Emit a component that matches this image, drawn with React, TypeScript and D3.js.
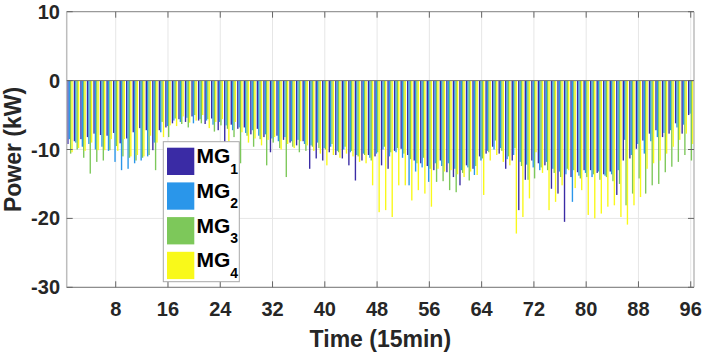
import React from "react";
import * as d3 from "d3";

// MG power per 15-min slot (kW)
const mg1 = [
  -9.2, -8.8, -8.5, -8.2, -7.7, -7.9, -8.0, -7.6, -9.1, -8.4, -7.5, -6.9, -7.2, -10.1, -7.2, -6.8,
  -6.2, -5.6, -6.0, -5.2, -5.8, -6.3, -5.5, -7.2, -8.9, -6.4, -7.0, -6.8, -7.8, -7.0, -8.2, -10.4,
  -8.0, -8.6, -9.0, -9.4, -8.8, -12.8, -11.3, -11.6, -10.4, -10.8, -11.3, -12.3, -14.5, -11.6, -10.8, -11.0,
  -12.3, -12.8, -10.2, -9.9, -10.8, -11.6, -12.0, -12.4, -13.0, -11.6, -13.3, -14.0, -15.2, -12.3, -12.8, -11.0,
  -10.6, -9.6, -10.6, -12.8, -11.6, -18.8, -14.4, -11.6, -12.0, -12.3, -15.7, -16.4, -20.5, -14.0, -13.3, -13.0,
  -13.0, -13.4, -13.6, -13.2, -16.6, -11.6, -11.3, -9.9, -8.7, -7.7, -7.2, -8.2, -7.7, -6.2, -7.7, -5.0,
];
const mg2 = [
  -8.5, -9.0, -9.6, -9.2, -10.0, -9.6, -10.2, -11.8, -13.0, -12.8, -12.0, -11.6, -11.0, -9.0, -7.5, -6.6,
  -5.8, -6.0, -5.4, -6.2, -5.6, -5.8, -6.4, -6.0, -6.5, -7.2, -6.8, -7.6, -7.2, -8.0, -7.8, -8.4,
  -8.8, -8.2, -8.8, -8.6, -9.2, -9.4, -9.0, -9.8, -9.6, -10.2, -10.0, -10.4, -10.8, -10.6, -11.2, -10.6,
  -10.0, -11.0, -10.4, -11.2, -15.2, -13.2, -12.6, -14.7, -12.0, -12.4, -12.0, -12.8, -13.0, -12.6, -13.7, -11.6,
  -10.2, -10.0, -9.8, -11.4, -10.8, -11.8, -12.2, -12.6, -13.0, -11.8, -12.8, -13.2, -13.6, -17.6, -13.8, -13.4,
  -14.0, -13.2, -13.8, -13.6, -13.0, -8.6, -10.8, -9.2, -10.6, -8.8, -8.2, -7.6, -7.2, -6.8, -6.4, -4.8,
];
const mg3 = [
  -10.6, -10.0, -11.2, -13.5, -11.8, -11.6, -10.1, -9.5, -11.0, -11.2, -11.6, -11.2, -10.8, -13.0, -6.0, -8.2,
  -5.5, -6.3, -6.8, -5.0, -6.2, -5.6, -7.4, -6.5, -7.0, -8.2, -12.0, -8.0, -9.6, -8.5, -12.3, -9.0,
  -9.8, -14.0, -9.6, -10.4, -10.2, -9.6, -9.8, -10.0, -9.2, -10.4, -9.6, -10.2, -11.0, -10.8, -11.6, -10.4,
  -9.6, -10.4, -9.8, -10.6, -11.4, -12.0, -11.2, -12.8, -14.7, -14.6, -15.9, -16.2, -13.4, -14.5, -12.4, -11.3,
  -10.4, -8.7, -10.2, -11.0, -9.8, -12.4, -14.4, -14.2, -12.6, -13.0, -13.4, -14.0, -12.8, -13.0, -14.2, -14.0,
  -13.6, -14.4, -14.0, -14.6, -15.0, -18.1, -16.4, -14.2, -16.4, -15.2, -15.0, -13.3, -12.5, -11.8, -10.8, -11.6,
];
const mg4 = [
  -10.4, -9.8, -10.2, -9.0, -10.1, -10.1, -8.5, -10.2, -8.5, -11.0, -10.8, -11.0, -8.0, -9.0, -8.2, -6.5,
  -6.6, -5.2, -6.1, -5.8, -5.0, -6.9, -6.0, -5.6, -8.8, -6.0, -7.5, -9.0, -8.4, -9.4, -8.6, -8.2,
  -10.0, -9.2, -9.8, -8.8, -9.4, -10.2, -10.6, -12.3, -10.8, -11.2, -10.6, -11.0, -11.8, -12.0, -15.2, -19.1,
  -18.8, -19.8, -15.2, -15.2, -17.4, -15.9, -16.4, -18.3, -12.8, -13.2, -13.0, -13.6, -14.0, -13.2, -13.7, -16.6,
  -11.6, -10.8, -11.8, -12.3, -22.2, -19.8, -17.1, -10.4, -13.4, -18.8, -17.6, -15.2, -13.0, -15.6, -15.9, -19.5,
  -20.0, -19.3, -18.3, -18.1, -19.8, -20.9, -18.1, -16.9, -12.8, -12.0, -11.6, -10.6, -9.6, -8.6, -7.7, -9.2,
];

const seriesNames = ["1", "2", "3", "4"];
const seriesColors = ["#3a2ba5", "#2a96ea", "#7dc85a", "#f9f91a"];
const xTicks = [8, 16, 24, 32, 40, 48, 56, 64, 72, 80, 88, 96];
const yTicks = [-30, -20, -10, 0, 10];

const W = 706;
const H = 353;
const font = "'Liberation Sans', Arial, Helvetica, sans-serif";

export default function App() {
  const series = [mg1, mg2, mg3, mg4];
  const steps = mg1.map((_, i) => i + 1);

  const x = d3.scaleLinear().domain([0.5, 96.5]).range([66.7, 694]);
  const y = d3.scaleLinear().domain([-30, 10]).range([287.3, 11.7]);

  // bars sit side by side in each group, a thin gap between groups
  const groupW = 0.84;
  const slot = groupW / series.length;
  const barW = slot;

  const left = x(0.5);
  const right = x(96.5);
  const top = y(10);
  const bottom = y(-30);

  return (
    <svg
      width={W}
      height={H}
      style={{ position: "absolute", left: 0, top: 0, background: "#fff" }}
    >
      {/* grid */}
      {xTicks.map((t) => (
        <line key={"gx" + t} x1={x(t)} x2={x(t)} y1={top} y2={bottom} stroke="#e6e6e6" />
      ))}
      {yTicks.map((t) => (
        <line key={"gy" + t} x1={left} x2={right} y1={y(t)} y2={y(t)} stroke="#e6e6e6" />
      ))}

      {/* bars */}
      {series.map((vals, s) => (
        <g key={"s" + s} fill={seriesColors[s]}>
          {vals.map((v, i) => {
            const c = steps[i] + (s - 1.5) * slot;
            const x0 = x(c - barW / 2);
            const x1 = x(c + barW / 2);
            return (
              <rect
                key={i}
                x={x0}
                y={Math.min(y(0), y(v))}
                width={x1 - x0}
                height={Math.abs(y(v) - y(0))}
              />
            );
          })}
        </g>
      ))}

      {/* baseline */}
      <line x1={left} x2={right} y1={y(0)} y2={y(0)} stroke="#777" strokeWidth={1} />

      {/* box */}
      <line x1={left} x2={right} y1={top} y2={top} stroke="#888" />
      <line x1={left} x2={right} y1={bottom} y2={bottom} stroke="#777" />
      <line x1={left} x2={left} y1={top} y2={bottom} stroke="#bdbdbd" strokeWidth={1.5} />
      <line x1={right} x2={right} y1={top} y2={bottom} stroke="#bdbdbd" strokeWidth={1.5} />

      {/* ticks */}
      {xTicks.map((t) => (
        <g key={"tx" + t}>
          <line x1={x(t)} x2={x(t)} y1={bottom} y2={bottom - 6} stroke="#666" />
          <line x1={x(t)} x2={x(t)} y1={top} y2={top + 6} stroke="#666" />
          <text
            x={x(t)}
            y={316}
            textAnchor="middle"
            fontFamily={font}
            fontWeight="bold"
            fontSize={20}
            fill="#262626"
          >
            {t}
          </text>
        </g>
      ))}
      {yTicks.map((t) => (
        <g key={"ty" + t}>
          <line x1={left} x2={left + 6} y1={y(t)} y2={y(t)} stroke="#666" />
          <line x1={right} x2={right - 6} y1={y(t)} y2={y(t)} stroke="#666" />
          <text
            x={60}
            y={y(t) + 7}
            textAnchor="end"
            fontFamily={font}
            fontWeight="bold"
            fontSize={20}
            fill="#262626"
          >
            {t}
          </text>
        </g>
      ))}

      {/* axis titles */}
      <text
        x={(left + right) / 2}
        y={347}
        textAnchor="middle"
        fontFamily={font}
        fontWeight="bold"
        fontSize={23}
        fill="#262626"
      >
        Time (15min)
      </text>
      <text
        transform={`translate(21,${(top + bottom) / 2}) rotate(-90)`}
        textAnchor="middle"
        fontFamily={font}
        fontWeight="bold"
        fontSize={23}
        fill="#262626"
      >
        Power (kW)
      </text>

      {/* legend */}
      <g>
        <rect x={163.3} y={141.7} width={76} height={140} fill="#fff" stroke="#a8a8a8" />
        {seriesNames.map((n, i) => (
          <g key={"lg" + n} transform={`translate(0,${i * 34.7})`}>
            <rect x={167} y={147.7} width={27.3} height={27.3} fill={seriesColors[i]} />
            <text x={196.5} y={163.3} fontFamily={font} fontWeight="bold" fontSize={21} fill="#000">
              MG
              <tspan dy={10.5} fontSize={14}>
                {n}
              </tspan>
            </text>
          </g>
        ))}
      </g>
    </svg>
  );
}
